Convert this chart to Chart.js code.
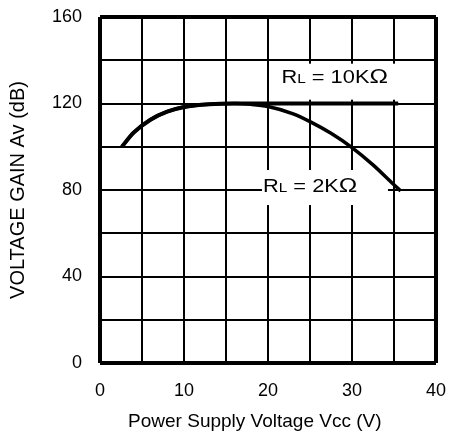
<!DOCTYPE html>
<html>
<head>
<meta charset="utf-8">
<script src="https://cdn.jsdelivr.net/npm/chart.js@4.4.0/dist/chart.umd.min.js"></script>
<style>
html,body{margin:0;padding:0;background:#fff;}
#wrap{width:449px;height:441px;}
</style>
</head>
<body>
<div id="wrap"><canvas id="c" width="449" height="441"></canvas></div>
<script>
// Data
const vcc2k  = [2.6, 4, 6, 8, 10, 13, 16, 18, 20, 23, 25, 27.5, 30, 32.5, 35, 35.8];
const gain2k = [100, 106.5, 112.5, 116.2, 118.4, 119.7, 120, 119.6, 118.6, 115.2, 111.6, 106.2, 99.6, 91.6, 82.4, 79.6];
const vcc10k  = [2.6, 4, 6, 8, 10, 13, 16, 20, 25, 30, 35.5];
const gain10k = [100, 106.5, 112.5, 116.2, 118.4, 119.7, 120, 120, 120, 120, 120];
const xTickLabels = [0, 10, 20, 30, 40];
const yTickLabels = [0, 40, 80, 120, 160];
const curveLabels = [
  {name: '10K', x: 21.6, y: 132.4},
  {name: '2K',  x: 19.4, y: 82.3}
];

const FONT = '"Liberation Sans", Arial, sans-serif';

const labelPlugin = {
  id: 'rlLabels',
  beforeDatasetsDraw(chart) {
    const {ctx, scales: {x, y}} = chart;
    ctx.save();
    curveLabels.forEach(l => {
      const px = x.getPixelForValue(l.x);
      const py = y.getPixelForValue(l.y);
      const parts = [
        {t: 'R', f: '18.5px ' + FONT},
        {t: 'L', f: '13px ' + FONT},
        {t: ' = ' + l.name, f: '18.5px ' + FONT},
        {t: '\u03A9', f: '21px ' + FONT}
      ];
      const is10 = l.name === '10K';
      const boxX = is10 ? px - 7 : px - 1;
      const boxW = is10 ? 127 : 126;
      const boxT = is10 ? py - 13 : py - 15;
      const boxH = is10 ? 36 : 35;
      ctx.fillStyle = '#fff';
      ctx.fillRect(boxX, boxT, boxW, boxH);
      ctx.fillStyle = '#000';
      ctx.textBaseline = 'alphabetic';
      ctx.textAlign = 'left';
      ctx.save();
      ctx.translate(px, py + 6.5);
      ctx.scale(1.18, 1);
      let cx = 0;
      parts.forEach(p => {
        ctx.font = p.f;
        ctx.fillText(p.t, cx, 0);
        cx += ctx.measureText(p.t).width;
      });
      ctx.restore();
    });
    ctx.restore();
  }
};

const edgeWidth = (ctx, min, max) => {
  const v = ctx.tick ? ctx.tick.value : null;
  return (v === min || v === max) ? 4 : 2;
};

new Chart(document.getElementById('c'), {
  type: 'line',
  data: {
    datasets: [
      {
        label: 'RL = 10KΩ',
        data: vcc10k.map((v, i) => ({x: v, y: gain10k[i]})),
        borderColor: '#000',
        borderWidth: 4,
        pointRadius: 0,
        cubicInterpolationMode: 'monotone',
        fill: false
      },
      {
        label: 'RL = 2KΩ',
        data: vcc2k.map((v, i) => ({x: v, y: gain2k[i]})),
        borderColor: '#000',
        borderWidth: 3.5,
        pointRadius: 0,
        cubicInterpolationMode: 'monotone',
        fill: false
      }
    ]
  },
  options: {
    responsive: false,
    animation: false,
    events: [],
    layout: {autoPadding: false, padding: {top: 17, right: 13, left: 0, bottom: 0}},
    plugins: {legend: {display: false}, tooltip: {enabled: false}},
    scales: {
      x: {
        type: 'linear', min: 0, max: 40,
        afterFit: s => { s.height = 78; s.paddingLeft = 0; s.paddingRight = 0; s.paddingTop = 0; s.paddingBottom = 0; },
        border: {display: false},
        grid: {color: '#000', lineWidth: c => edgeWidth(c, 0, 40), drawTicks: false},
        ticks: {
          stepSize: 5, autoSkip: false, maxRotation: 0, padding: 17,
          color: '#000', font: {family: FONT, size: 18},
          callback: v => xTickLabels.includes(v) ? String(v) : ''
        },
        title: {display: true, text: 'Power Supply Voltage Vcc (V)\u00A0\u00A0\u00A0\u00A0\u00A0', color: '#000',
                font: {family: FONT, size: 19}, padding: {top: 0, bottom: 8.3}}
      },
      y: {
        type: 'linear', min: 0, max: 160,
        afterFit: s => { s.width = 100; s.paddingLeft = 0; s.paddingRight = 0; s.paddingTop = 0; s.paddingBottom = 0; },
        border: {display: false},
        grid: {color: '#000', lineWidth: c => edgeWidth(c, 0, 160), drawTicks: false},
        ticks: {
          stepSize: 20, autoSkip: false, padding: 18,
          color: '#000', font: {family: FONT, size: 18},
          callback: v => yTickLabels.includes(v) ? String(v) : ''
        },
        title: {display: true, text: 'VOLTAGE GAIN Av (dB)', color: '#000',
                font: {family: FONT, size: 20}, padding: {top: 6, bottom: 0}}
      }
    }
  },
  plugins: [labelPlugin]
});
</script>
</body>
</html>
